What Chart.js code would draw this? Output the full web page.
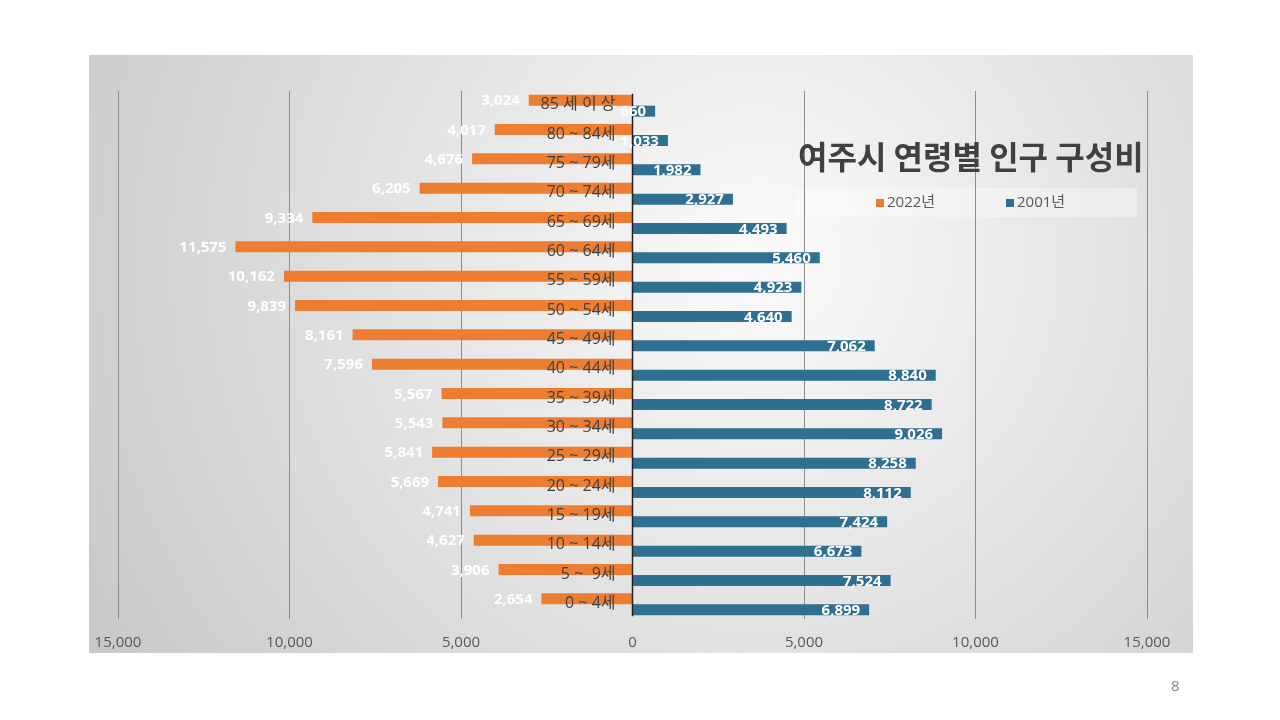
<!DOCTYPE html>
<html>
<head>
<meta charset="utf-8">
<script src="https://cdn.jsdelivr.net/npm/chart.js@4"></script>
<style>
  html, body { margin: 0; padding: 0; background: #fff; }
  #wrap { position: relative; width: 1280px; height: 720px; }
  #pageNo { position: absolute; left: 1171px; top: 675px; font: 15px "Open Sans", sans-serif; color: #888; }
</style>
</head>
<body>
<div id="wrap">
  <canvas id="myChart" width="1280" height="720"></canvas>
  <div id="pageNo">8</div>
</div>
<script>
const ageGroups = ['85 세 이 상', '80 ~ 84세', '75 ~ 79세', '70 ~ 74세', '65 ~ 69세', '60 ~ 64세',
  '55 ~ 59세', '50 ~ 54세', '45 ~ 49세', '40 ~ 44세', '35 ~ 39세', '30 ~ 34세', '25 ~ 29세',
  '20 ~ 24세', '15 ~ 19세', '10 ~ 14세', '5 ~  9세', '0 ~ 4세']
const pop2022 = [3024, 4017, 4676, 6205, 9334, 11575, 10162, 9839, 8161, 7596, 5567, 5543, 5841, 5669, 4741, 4627, 3906, 2654]
const pop2001 = [660, 1033, 1982, 2927, 4493, 5460, 4923, 4640, 7062, 8840, 8722, 9026, 8258, 8112, 7424, 6673, 7524, 6899]
const xTicks = [-15000, -10000, -5000, 0, 5000, 10000, 15000]

const KFONT = '"Open Sans", "Noto Sans CJK KR", sans-serif'
const TFONT = '"Noto Sans CJK KR", sans-serif'
const fmt = v => Math.abs(v).toLocaleString('en-US')

// grey backdrop + title + legend box
const backdrop = {
  id: 'backdrop',
  beforeDraw(chart) {
    const c = chart.ctx
    c.save()
    const g = c.createRadialGradient(760, 260, 40, 760, 260, 760)
    g.addColorStop(0, '#f8f8f8')
    g.addColorStop(1, '#c9c9c9')
    c.fillStyle = g
    c.fillRect(89, 55, 1104, 598)
    c.fillStyle = 'rgba(255,255,255,0.35)'
    c.fillRect(795, 188, 342, 29)
    c.restore()
  },
  afterDraw(chart) {
    const c = chart.ctx
    c.save()
    c.fillStyle = '#404040'
    c.font = 'bold 32px ' + TFONT
    c.textAlign = 'left'
    c.textBaseline = 'middle'
    c.fillText('여주시 연령별 인구 구성비', 798, 157)
    c.font = '15px ' + KFONT
    c.fillStyle = '#ED7D31'
    c.fillRect(876, 199, 8, 8)
    c.fillStyle = '#2F6F8F'
    c.fillRect(1006, 199, 8, 8)
    c.fillStyle = '#595959'
    c.fillText('2022년', 887, 203)
    c.fillText('2001년', 1017, 203)
    c.restore()
  }
}

// category names next to the zero line and value labels on bars
const labelsPlugin = {
  id: 'labelsPlugin',
  afterDatasetsDraw(chart) {
    const c = chart.ctx
    const y = chart.scales.y
    const x0 = chart.scales.x.getPixelForValue(0)
    c.save()
    // zero line
    c.strokeStyle = '#222'
    c.lineWidth = 1.5
    c.beginPath()
    c.moveTo(x0, y.getPixelForValue(0) - 12)
    c.lineTo(x0, y.getPixelForValue(ageGroups.length - 1) + 12)
    c.stroke()

    c.font = '16px ' + KFONT
    c.fillStyle = '#404040'
    c.textAlign = 'right'
    c.textBaseline = 'middle'
    ageGroups.forEach((name, i) => {
      c.fillText(name, x0 - 17, y.getPixelForValue(i) - 1)
    })

    c.font = 'bold 15px ' + KFONT
    c.fillStyle = '#ffffff'
    c.textAlign = 'right'
    chart.getDatasetMeta(0).data.forEach((bar, i) => {
      c.fillText(fmt(pop2022[i]), bar.x - 9, bar.y + 1)
    })
    chart.getDatasetMeta(1).data.forEach((bar, i) => {
      c.fillText(fmt(pop2001[i]), bar.x - 9, bar.y + 1)
    })
    c.restore()
  }
}

new Chart('myChart', {
  type: 'bar',
  data: {
    labels: ageGroups,
    datasets: [{
      label: '2022년',
      data: pop2022.map(v => -v),
      backgroundColor: '#ED7D31',
      categoryPercentage: 0.75,
      barPercentage: 1
    }, {
      label: '2001년',
      data: pop2001,
      backgroundColor: '#2F6F8F',
      categoryPercentage: 0.75,
      barPercentage: 1
    }]
  },
  options: {
    indexAxis: 'y',
    responsive: false,
    animation: false,
    layout: { padding: { left: 118, right: 133, top: 91, bottom: 53 } },
    plugins: {
      legend: { display: false },
      tooltip: { enabled: false }
    },
    scales: {
      x: {
        min: -15000,
        max: 15000,
        afterBuildTicks: axis => { axis.ticks = xTicks.map(v => ({ value: v })) },
        grid: {
          color: ctx => ctx.tick && ctx.tick.value === 0 ? 'rgba(0,0,0,0)' : '#8c8c8c',
          lineWidth: 1,
          drawTicks: false
        },
        border: { display: false },
        ticks: {
          padding: 15,
          color: '#595959',
          font: { size: 15, family: KFONT },
          callback: v => fmt(v)
        }
      },
      y: {
        display: false,
        grid: { display: false }
      }
    }
  },
  plugins: [backdrop, labelsPlugin]
})
</script>
</body>
</html>
